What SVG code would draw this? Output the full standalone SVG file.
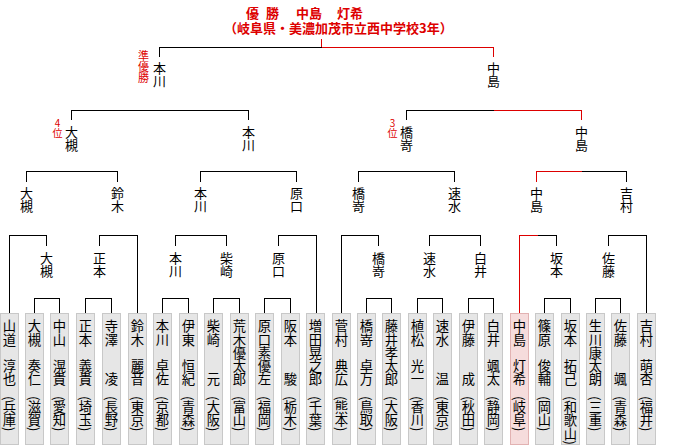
<svg xmlns="http://www.w3.org/2000/svg" width="680" height="446" viewBox="0 0 680 446">
<style>
.ln{stroke:#000;stroke-width:1;fill:none;shape-rendering:crispEdges}
.rd{stroke:#dd0000}
.bx{fill:#e6e6e6;stroke:#c8c8c8;stroke-width:1;shape-rendering:crispEdges}
.bw{fill:#f6dcdc;stroke:#e2b2b2;stroke-width:1;shape-rendering:crispEdges}
.v{font-family:"Noto Sans CJK JP","Noto Sans CJK SC",sans-serif;font-size:13px;writing-mode:vertical-rl;fill:#000}
.n{font-family:"Noto Sans CJK JP","Noto Sans CJK SC",sans-serif;font-size:13.3px;writing-mode:vertical-rl;fill:#000}
.rv{font-family:"Noto Sans CJK JP","Noto Sans CJK SC",sans-serif;writing-mode:vertical-rl;text-orientation:upright;fill:#dd0000}
.tt{font-family:"Noto Sans CJK JP","Noto Sans CJK SC",sans-serif;font-size:13px;font-weight:bold;fill:#dd0000}
</style>
<rect width="680" height="446" fill="#fff"/>
<g id="title">
<text class="tt" x="246" y="17.5" dx="0 0 4 0 4 0 0 2">優 勝　中島　灯希</text>
<text class="tt" x="224" y="32.5">（岐阜県・美濃加茂市立西中学校3年）</text>
</g>
<g id="connectors">
<path class="ln rd" d="M321.5 39V47.5H493.5V57"/>
<path class="ln" d="M159.5 57V47.5H321.5"/>
<path class="ln" d="M71.5 120V110.5H248.5V120"/>
<path class="ln" d="M406.5 120V110.5H493.5"/>
<path class="ln rd" d="M493.5 110.5H581.5V120"/>
<path class="ln" d="M26.5 181.5V171.5H117.5V181.5M200.5 181.5V171.5H296.5V181.5M358.5 181.5V171.5H454.5V181.5M581.5 171.5H626.5V181.5"/>
<path class="ln rd" d="M536.5 181.5V171.5H581.5"/>
<path class="ln" d="M9.5 313V235.5H46.5V245.5M99.5 245.5V235.5H137.5V313M175.5 245.5V235.5H226.5V245.5M278.5 245.5V235.5H316.5V313M341.5 313V235.5H378.5V245.5M429.5 245.5V235.5H480.5V245.5M537.5 235.5H556.5V245.5M608.5 245.5V235.5H646.5V313"/>
<path class="ln rd" d="M519.5 313V235.5H537.5"/>
<path class="ln" d="M34.5 313V298.5H59.5V313M85.5 313V298.5H111.5V313M162.5 313V298.5H188.5V313M213.5 313V298.5H239.5V313M264.5 313V298.5H290.5V313M366.5 313V298.5H391.5V313M417.5 313V298.5H442.5V313M468.5 313V298.5H493.5V313M544.5 313V298.5H570.5V313M595.5 313V298.5H620.5V313"/>
</g>
<g id="final">
<g id="f-honkawa"><text class="v" x="159.5" y="62">本川</text><text class="rv" x="143.5" y="50" font-size="11">準優勝</text></g>
<g id="f-nakajima"><text class="v" x="493.5" y="62">中島</text></g>
</g>
<g id="semi">
<g id="s-otsuki"><text class="v" x="71.5" y="126">大槻</text><text class="rv" x="57.5" y="118.5" font-size="10">4位</text></g>
<g id="s-honkawa"><text class="v" x="248.5" y="126">本川</text></g>
<g id="s-hashizaki"><text class="v" x="406.5" y="126">橋嵜</text><text class="rv" x="392.5" y="118.5" font-size="10">3位</text></g>
<g id="s-nakajima"><text class="v" x="581.5" y="126">中島</text></g>
</g>
<g id="qf">
<g id="q1"><text class="v" x="26.5" y="187">大槻</text></g>
<g id="q2"><text class="v" x="117.5" y="187">鈴木</text></g>
<g id="q3"><text class="v" x="200.5" y="187">本川</text></g>
<g id="q4"><text class="v" x="296.5" y="187">原口</text></g>
<g id="q5"><text class="v" x="358.5" y="187">橋嵜</text></g>
<g id="q6"><text class="v" x="454.5" y="187">速水</text></g>
<g id="q7"><text class="v" x="536.5" y="187">中島</text></g>
<g id="q8"><text class="v" x="626.5" y="187">吉村</text></g>
</g>
<g id="r16">
<g id="r1"><text class="v" x="46.5" y="252">大槻</text></g>
<g id="r2"><text class="v" x="99.5" y="252">正本</text></g>
<g id="r3"><text class="v" x="175.5" y="252">本川</text></g>
<g id="r4"><text class="v" x="226.5" y="252">柴崎</text></g>
<g id="r5"><text class="v" x="278.5" y="252">原口</text></g>
<g id="r6"><text class="v" x="378.5" y="252">橋嵜</text></g>
<g id="r7"><text class="v" x="429.5" y="252">速水</text></g>
<g id="r8"><text class="v" x="480.5" y="252">白井</text></g>
<g id="r9"><text class="v" x="556.5" y="252">坂本</text></g>
<g id="r10"><text class="v" x="608.5" y="252">佐藤</text></g>
</g>
<g id="players">
<g id="p0"><rect class="bx" x="0.5" y="313.5" width="18" height="131"/><text class="n" x="9.5" y="319.5">山道　淳也</text><text class="n" x="9.5" y="396">(兵庫)</text></g>
<g id="p1"><rect class="bx" x="25.5" y="313.5" width="18" height="131"/><text class="n" x="34.5" y="319.5">大槻　奏仁</text><text class="n" x="34.5" y="396">(滋賀)</text></g>
<g id="p2"><rect class="bx" x="50.5" y="313.5" width="18" height="131"/><text class="n" x="59.5" y="319.5">中山　滉貴</text><text class="n" x="59.5" y="396">(愛知)</text></g>
<g id="p3"><rect class="bx" x="76.5" y="313.5" width="18" height="131"/><text class="n" x="85.5" y="319.5">正本　義貴</text><text class="n" x="85.5" y="396">(埼玉)</text></g>
<g id="p4"><rect class="bx" x="102.5" y="313.5" width="18" height="131"/><text class="n" x="111.5" y="319.5">寺澤　　凌</text><text class="n" x="111.5" y="396">(長野)</text></g>
<g id="p5"><rect class="bx" x="128.5" y="313.5" width="18" height="131"/><text class="n" x="137.5" y="319.5">鈴木　麗音</text><text class="n" x="137.5" y="396">(東京)</text></g>
<g id="p6"><rect class="bx" x="153.5" y="313.5" width="18" height="131"/><text class="n" x="162.5" y="319.5">本川　卓佐</text><text class="n" x="162.5" y="396">(京都)</text></g>
<g id="p7"><rect class="bx" x="179.5" y="313.5" width="18" height="131"/><text class="n" x="188.5" y="319.5">伊東　恒紀</text><text class="n" x="188.5" y="396">(青森)</text></g>
<g id="p8"><rect class="bx" x="204.5" y="313.5" width="18" height="131"/><text class="n" x="213.5" y="319.5">柴崎　　元</text><text class="n" x="213.5" y="396">(大阪)</text></g>
<g id="p9"><rect class="bx" x="230.5" y="313.5" width="18" height="131"/><text class="n" x="239.5" y="319.5">荒木優太郎</text><text class="n" x="239.5" y="396">(富山)</text></g>
<g id="p10"><rect class="bx" x="255.5" y="313.5" width="18" height="131"/><text class="n" x="264.5" y="319.5">原口素優左</text><text class="n" x="264.5" y="396">(福岡)</text></g>
<g id="p11"><rect class="bx" x="281.5" y="313.5" width="18" height="131"/><text class="n" x="290.5" y="319.5">阪本　　駿</text><text class="n" x="290.5" y="396">(栃木)</text></g>
<g id="p12"><rect class="bx" x="306.5" y="313.5" width="18" height="131"/><text class="n" x="315.5" y="319.5">増田晃之郎</text><text class="n" x="315.5" y="396">(千葉)</text></g>
<g id="p13"><rect class="bx" x="332.5" y="313.5" width="18" height="131"/><text class="n" x="341.5" y="319.5">菅村　典広</text><text class="n" x="341.5" y="396">(熊本)</text></g>
<g id="p14"><rect class="bx" x="357.5" y="313.5" width="18" height="131"/><text class="n" x="366.5" y="319.5">橋嵜　卓万</text><text class="n" x="366.5" y="396">(鳥取)</text></g>
<g id="p15"><rect class="bx" x="382.5" y="313.5" width="18" height="131"/><text class="n" x="391.5" y="319.5">藤井孝太郎</text><text class="n" x="391.5" y="396">(大阪)</text></g>
<g id="p16"><rect class="bx" x="408.5" y="313.5" width="18" height="131"/><text class="n" x="417.5" y="319.5">植松　光一</text><text class="n" x="417.5" y="396">(香川)</text></g>
<g id="p17"><rect class="bx" x="433.5" y="313.5" width="18" height="131"/><text class="n" x="442.5" y="319.5">速水　　温</text><text class="n" x="442.5" y="396">(東京)</text></g>
<g id="p18"><rect class="bx" x="459.5" y="313.5" width="18" height="131"/><text class="n" x="468.5" y="319.5">伊藤　　成</text><text class="n" x="468.5" y="396">(秋田)</text></g>
<g id="p19"><rect class="bx" x="484.5" y="313.5" width="18" height="131"/><text class="n" x="493.5" y="319.5">白井　颯太</text><text class="n" x="493.5" y="396">(静岡)</text></g>
<g id="p20"><rect class="bw" x="510.5" y="313.5" width="18" height="131"/><text class="n" x="519.5" y="319.5">中島　灯希</text><text class="n" x="519.5" y="396">(岐阜)</text></g>
<g id="p21"><rect class="bx" x="535.5" y="313.5" width="18" height="131"/><text class="n" x="544.5" y="319.5">篠原　俊輔</text><text class="n" x="544.5" y="396">(岡山)</text></g>
<g id="p22"><rect class="bx" x="561.5" y="313.5" width="18" height="131"/><text class="n" x="570.5" y="319.5">坂本　拓己</text><text class="n" x="570.5" y="396">(和歌山)</text></g>
<g id="p23"><rect class="bx" x="586.5" y="313.5" width="18" height="131"/><text class="n" x="595.5" y="319.5">生川康太朗</text><text class="n" x="595.5" y="396">(三重)</text></g>
<g id="p24"><rect class="bx" x="611.5" y="313.5" width="18" height="131"/><text class="n" x="620.5" y="319.5">佐藤　　颯</text><text class="n" x="620.5" y="396">(青森)</text></g>
<g id="p25"><rect class="bx" x="637.5" y="313.5" width="18" height="131"/><text class="n" x="646.5" y="319.5">吉村　萌杏</text><text class="n" x="646.5" y="396">(福井)</text></g>
</g>
</svg>
